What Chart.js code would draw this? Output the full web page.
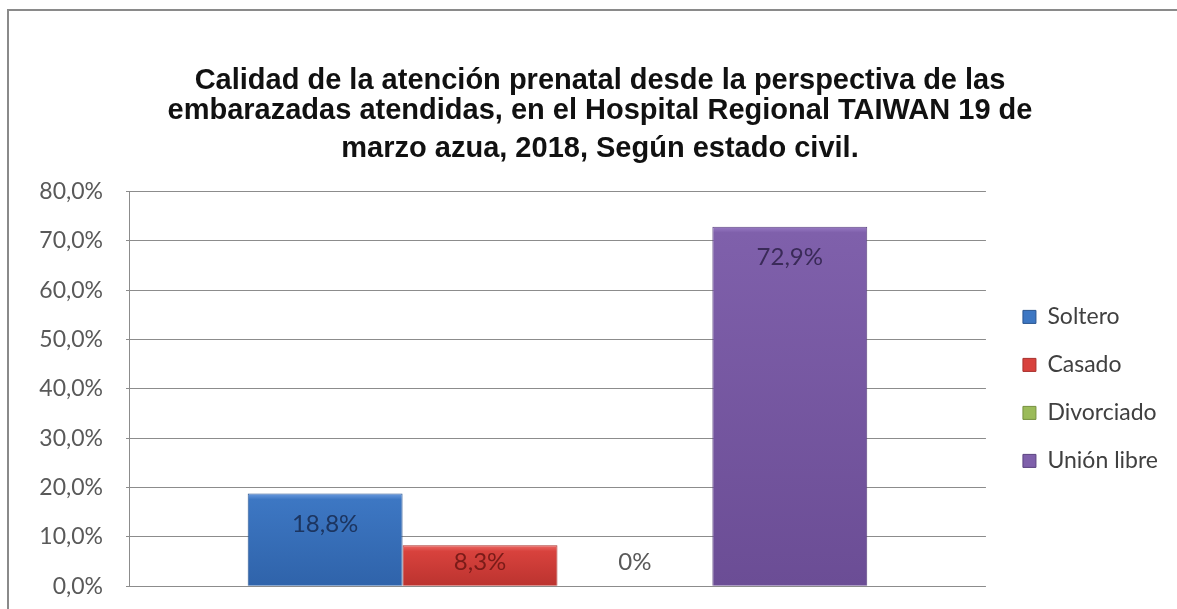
<!DOCTYPE html>
<html>
<head>
<meta charset="utf-8">
<script src="https://cdn.jsdelivr.net/npm/chart.js@4.4.1/dist/chart.umd.min.js"></script>
<style>
  html, body { margin: 0; padding: 0; background: #fff; overflow: hidden; }
  #marco { position: absolute; left: 7px; top: 9px; width: 1200px; height: 640px;
           border-left: 2px solid #8a8a8a; border-top: 2px solid #8a8a8a; }
  #grafico { position: absolute; left: 0; top: 0; }
</style>
</head>
<body>
<div id="marco"></div>
<canvas id="grafico" width="1177" height="623"></canvas>
<script>
// Datos del gráfico
const categorias = ['Estado civil'];
const series = ['Soltero', 'Casado', 'Divorciado', 'Unión libre'];
const valores = [18.8, 8.3, 0, 72.9];
const etiquetas = ['18,8%', '8,3%', '0%', '72,9%'];
// colores: brillo superior, cuerpo, parte baja, borde
const coloresClaros = ['#6a9be0', '#ec6a66', '#b5d37a', '#9a7cc6'];
const colores = ['#3d77c3', '#d8423d', '#9bbb59', '#7f60ab'];
const coloresOscuros = ['#2f63aa', '#bb332f', '#809a45', '#6b4d95'];
const bordes = ['#2a5590', '#a8302c', '#76903f', '#5b4380'];
const coloresEtiqueta = ['#1c3560', '#7a1b18', '#595959', '#3a2a58'];

// Degradado vertical por barra (aspecto de Excel)
function relleno(i) {
  return (c) => {
    const ch = c.chart;
    const y = ch.scales.y;
    if (!ch.chartArea || !y) return colores[i];
    const top = y.getPixelForValue(c.raw);
    const base = y.getPixelForValue(0);
    if (base - top < 2) return colores[i];
    const g = ch.ctx.createLinearGradient(0, top, 0, base);
    g.addColorStop(0, coloresClaros[i]);
    g.addColorStop(Math.min(0.5, 6 / (base - top)), colores[i]);
    g.addColorStop(1, coloresOscuros[i]);
    return g;
  };
}

// Plugin: etiquetas de valor dentro de las barras (como en Excel)
const etiquetasBarras = {
  id: 'etiquetasBarras',
  afterDatasetsDraw: (chart) => {
    const ctx = chart.ctx;
    const base = chart.scales.y.getPixelForValue(0);
    ctx.save();
    ctx.font = '24px Lato';
    ctx.textAlign = 'center';
    ctx.textBaseline = 'middle';
    chart.data.datasets.forEach((ds, i) => {
      const meta = chart.getDatasetMeta(i);
      meta.data.forEach((bar) => {
        const y = Math.min(bar.y + 31, base - 24);
        ctx.fillStyle = coloresEtiqueta[i];
        ctx.fillText(etiquetas[i], bar.x, y);
      });
    });
    ctx.restore();
  }
};

const fuenteTitulo = { family: 'Liberation Sans', size: 29, weight: 'bold', lineHeight: 1.03 };

new Chart(document.getElementById('grafico'), {
  type: 'bar',
  data: {
    labels: categorias,
    datasets: series.map((nombre, i) => ({
      label: nombre,
      data: [valores[i]],
      backgroundColor: relleno(i),
      borderColor: bordes[i],
      borderWidth: 1,
      categoryPercentage: 0.723,
      barPercentage: 1
    }))
  },
  options: {
    responsive: false,
    animation: false,
    layout: { padding: { left: 32, right: 9, top: 0, bottom: 9 } },
    scales: {
      x: { display: false },
      y: {
        min: 0,
        max: 80,
        ticks: {
          stepSize: 10,
          color: '#595959',
          font: { family: 'Lato', size: 23 },
          padding: 23,
          callback: v => v.toFixed(1).replace('.', ',') + '%'
        },
        grid: { color: '#8c8c8c', tickLength: 3 },
        border: { color: '#8c8c8c' },
        afterFit: s => { s.width = 97; }
      },
      // eje vacío para separar la leyenda del área de trazado
      hueco: {
        type: 'linear',
        position: 'right',
        grid: { display: false },
        ticks: { display: false },
        border: { display: false },
        afterFit: s => { s.width = 12; }
      }
    },
    plugins: {
      title: {
        display: true,
        text: ['Calidad de la atención prenatal desde la perspectiva de las',
               'embarazadas atendidas, en el Hospital Regional TAIWAN 19 de'],
        color: '#111',
        font: fuenteTitulo,
        padding: { top: 66, bottom: 0 }
      },
      subtitle: {
        display: true,
        text: 'marzo azua, 2018, Según estado civil.',
        color: '#111',
        font: fuenteTitulo,
        padding: { top: 8, bottom: 28 }
      },
      legend: {
        position: 'right',
        fullSize: false,
        labels: {
          color: '#404040',
          font: { family: 'Lato', size: 23, lineHeight: 1 },
          boxWidth: 13,
          boxHeight: 13,
          padding: 25,
          generateLabels: (chart) =>
            Chart.defaults.plugins.legend.labels.generateLabels(chart).map((l, i) => ({
              ...l,
              fillStyle: colores[i],
              strokeStyle: bordes[i]
            }))
        }
      },
      tooltip: { enabled: false }
    }
  },
  plugins: [etiquetasBarras]
});
</script>
</body>
</html>
